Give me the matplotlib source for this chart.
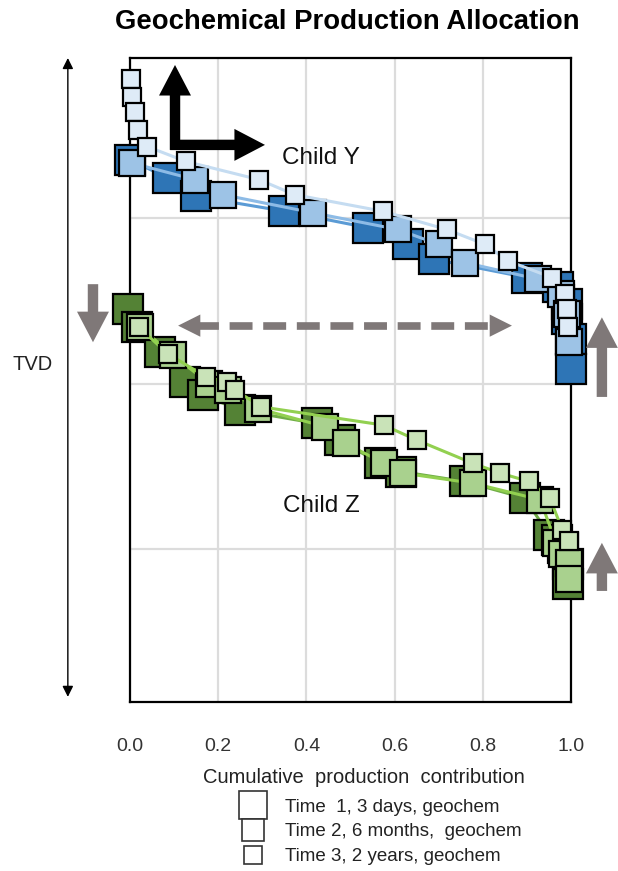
import numpy as np
import matplotlib.pyplot as plt
from matplotlib.lines import Line2D
from matplotlib.patches import FancyArrowPatch

plt.rcParams['font.family'] = ['Liberation Sans', 'DejaVu Sans']

# Child Y (blue) - cumulative contribution vs TVD (relative units, 0 = top)
y_t1_x = [0.00, 0.086, 0.15, 0.35, 0.54, 0.63, 0.69, 0.90, 0.97, 0.99, 0.99, 1.00, 1.00]
y_t1_d = [0.65, 0.76, 0.87, 0.96, 1.06, 1.16, 1.25, 1.36, 1.42, 1.52, 1.61, 1.73, 1.91]
y_t2_x = [0.005, 0.148, 0.21, 0.416, 0.607, 0.70, 0.76, 0.925, 0.977, 0.99, 0.995]
y_t2_d = [0.67, 0.77, 0.86, 0.97, 1.07, 1.16, 1.27, 1.37, 1.46, 1.58, 1.75]
y_t3_x = [0.002, 0.005, 0.011, 0.018, 0.039, 0.127, 0.293, 0.373, 0.573, 0.718,
          0.805, 0.857, 0.957, 0.986, 0.991, 0.993]
y_t3_d = [0.16, 0.27, 0.36, 0.47, 0.57, 0.66, 0.77, 0.86, 0.96, 1.07,
          1.16, 1.26, 1.36, 1.46, 1.55, 1.66]

# Child Z (green)
z_t1_x = [-0.005, 0.016, 0.068, 0.125, 0.166, 0.25, 0.423, 0.475, 0.566, 0.614,
          0.759, 0.895, 0.95, 0.968, 0.982, 0.993, 0.993]
z_t1_d = [1.55, 1.66, 1.81, 1.99, 2.07, 2.16, 2.24, 2.34, 2.48, 2.53,
          2.59, 2.69, 2.91, 2.94, 2.99, 3.09, 3.21]
z_t2_x = [0.023, 0.098, 0.18, 0.223, 0.29, 0.443, 0.489, 0.575, 0.62, 0.777,
          0.93, 0.966, 0.98, 0.995, 0.995]
z_t2_d = [1.66, 1.83, 2.00, 2.04, 2.15, 2.26, 2.36, 2.48, 2.54, 2.60,
          2.70, 2.96, 3.03, 3.08, 3.18]
z_t3_x = [0.02, 0.086, 0.173, 0.22, 0.239, 0.298, 0.575, 0.65, 0.777, 0.84,
          0.905, 0.952, 0.98, 0.995]
z_t3_d = [1.66, 1.82, 1.96, 1.99, 2.04, 2.14, 2.25, 2.34, 2.48, 2.54,
          2.59, 2.69, 2.88, 2.95]

x_ticks = [0.0, 0.2, 0.4, 0.6, 0.8, 1.0]
legend_labels = ['Time  1, 3 days, geochem',
                 'Time 2, 6 months,  geochem',
                 'Time 3, 2 years, geochem']

fig = plt.figure(figsize=(6.18, 8.71), dpi=100)
ax = fig.add_axes([0.2104, 0.194, 0.7136, 0.7394])

# series: (x, d, fill, line colour, marker size)
series = [
    (y_t1_x, y_t1_d, '#2e75b6', '#5b9bd5', 21.5),
    (y_t2_x, y_t2_d, '#9dc3e6', '#8dbbe6', 18.5),
    (y_t3_x, y_t3_d, '#deebf7', '#c5dcf1', 13.5),
    (z_t1_x, z_t1_d, '#548235', '#70ad47', 21.5),
    (z_t2_x, z_t2_d, '#a9d18e', '#92d050', 18.5),
    (z_t3_x, z_t3_d, '#c9e3b8', '#92d050', 13.5),
]
for i, (xs, ds, fc, lc, ms) in enumerate(series):
    ax.plot(xs, ds, color=lc, lw=2.2, zorder=3 + i, clip_on=False)
    ax.plot(xs, ds, ls='none', marker='s', ms=ms, mfc=fc, mec='black',
            mew=1.6, zorder=3 + i, clip_on=False)

ax.set_xlim(0, 1.0)
ax.set_ylim(3.92, 0.036)
ax.set_xticks(x_ticks)
ax.set_xticklabels(['%.1f' % v for v in x_ticks])
ax.set_yticks([1, 2, 3])
ax.set_yticklabels([])
ax.tick_params(axis='both', length=0, labelsize=14, colors='#404040', pad=26)
ax.tick_params(axis='x', labelcolor='#333333')
ax.grid(True, color='#dcdcdc', lw=1.6)
ax.set_axisbelow(True)
for s in ax.spines.values():
    s.set_linewidth(1.6)
    s.set_color('black')

ax.set_xlabel('Cumulative  production  contribution', fontsize=14.5,
              color='#222222')
ax.xaxis.set_label_coords(0.53, -0.103)

fig.text(0.5615, 0.975, 'Geochemical Production Allocation', fontsize=19.8,
         fontweight='bold', ha='center', va='center')
fig.text(0.053, 0.581, 'TVD', fontsize=14.5, ha='center', va='center',
         color='#222222')

ax.text(0.345, 0.64, 'Child Y', fontsize=17.5, va='center', color='#111111')
ax.text(0.347, 2.74, 'Child Z', fontsize=17.5, va='center', color='#111111')

# TVD double arrow
ax.annotate('', xy=(-0.141, 1.0), xytext=(-0.141, 0.008),
            xycoords='axes fraction', annotation_clip=False,
            arrowprops=dict(arrowstyle='<|-|>', color='black', lw=1.0,
                            mutation_scale=16, shrinkA=0, shrinkB=0))

# black direction arrows
black_style = 'simple,head_length=22,head_width=23,tail_width=7.5'
for (xa, ya), (xb, yb) in [((0.102, 0.59), (0.102, 0.078)),
                           ((0.091, 0.56), (0.306, 0.56))]:
    ax.add_patch(FancyArrowPatch((xa, ya), (xb, yb), arrowstyle=black_style,
                                 mutation_scale=1, color='black', lw=0,
                                 shrinkA=0, shrinkB=0, zorder=10,
                                 clip_on=False))

# grey arrows
grey = '#7f7878'
grey_style = 'simple,head_length=22,head_width=23,tail_width=7.5'
for (xa, ya), (xb, yb) in [((-0.084, 1.40), (-0.084, 1.75)),
                           ((1.07, 2.08), (1.07, 1.60)),
                           ((1.07, 3.25), (1.07, 2.96))]:
    ax.add_patch(FancyArrowPatch((xa, ya), (xb, yb), arrowstyle=grey_style,
                                 mutation_scale=1, color=grey, lw=0,
                                 shrinkA=0, shrinkB=0, zorder=10,
                                 clip_on=False))

# dashed double arrow
ax.plot([0.15, 0.83], [1.65, 1.65], color=grey, lw=5.5, dashes=(3.0, 1.4),
        solid_capstyle='butt', dash_capstyle='butt', zorder=10)
for xa, xb in [(0.16, 0.109), (0.815, 0.866)]:
    ax.add_patch(FancyArrowPatch((xa, 1.65), (xb, 1.65),
                                 arrowstyle='simple,head_length=16,head_width=16,tail_width=0.1',
                                 mutation_scale=1, color=grey, lw=0,
                                 shrinkA=0, shrinkB=0, zorder=10))

handles = [Line2D([], [], ls='none', marker='s', ms=m, mfc='white',
                  mec='#333333', mew=1.2) for m in (19.5, 16.5, 12.5)]
fig.legend(handles, legend_labels, loc='upper left',
           bbox_to_anchor=(0.388, 0.083), frameon=False, fontsize=13.5,
           handlelength=1.4, handletextpad=1.0, labelspacing=0.4,
           borderpad=0, borderaxespad=0, labelcolor='#222222')

plt.savefig('out.png', dpi=100)
